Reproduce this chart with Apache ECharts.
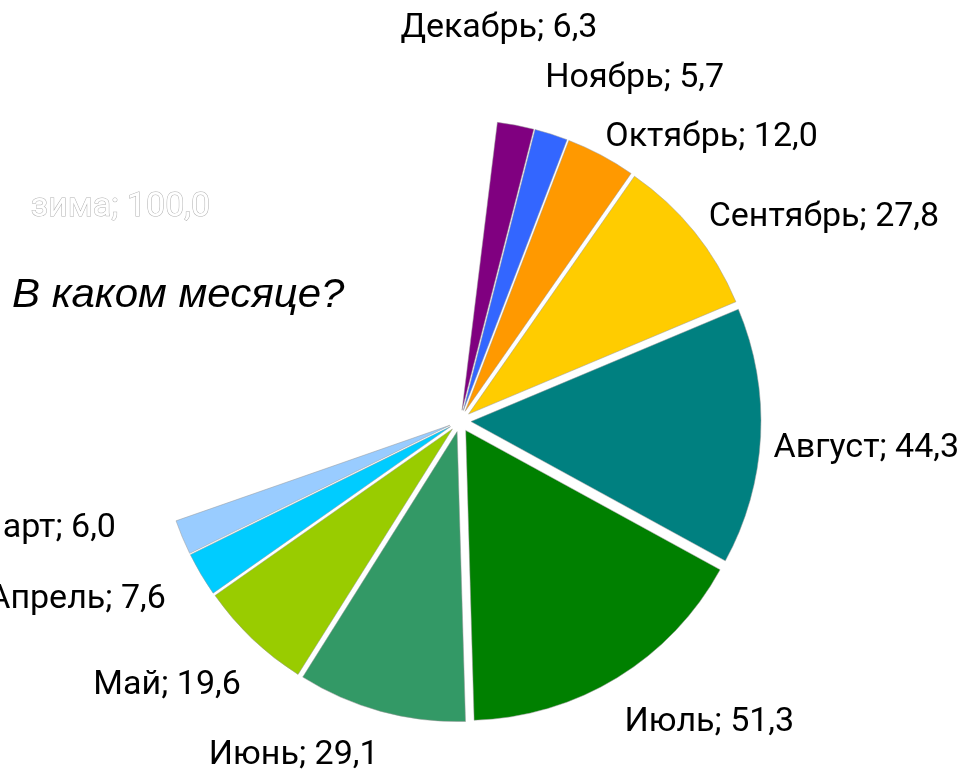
<!DOCTYPE html>
<html>
<head>
<meta charset="utf-8">
<script src="https://cdn.jsdelivr.net/npm/echarts@6/dist/echarts.min.js"></script>
<style>
  html, body { margin: 0; padding: 0; background: #fff; }
  #chart { width: 967px; height: 769px; }
</style>
</head>
<body>
<div id="chart"></div>
<script>
// months, clockwise from the top
const months = ["Декабрь", "Ноябрь", "Октябрь", "Сентябрь", "Август", "Июль", "Июнь", "Май", "Апрель", "Март", "зима"];
const values = [6.3, 5.7, 12.0, 27.8, 44.3, 51.3, 29.1, 19.6, 7.6, 6.0, 100.0];
const colors = ["#800080", "#3366ff", "#ff9900", "#ffcc00", "#008080", "#008000", "#339966", "#99cc00", "#00ccff", "#99ccff", "#ffffff"];
const title = "В каком месяце?";

// hand placement of the labels, like in the original (dx, dy)
const labelNudge = [[-124, -77], [-17, -37], [-10, 0], [-6, -2], [-12, 11], [-8, 28], [8, 25], [7, 32], [-13, 15], [-43, -17], [5, -12]];

const chart = echarts.init(document.getElementById("chart"));

const fmt = (v) => v.toFixed(1).replace(".", ",");

const data = months.map((name, i) => {
  const item = {
    name: name,
    value: values[i],
    selected: true,
    itemStyle: { color: colors[i] },
  };
  if (name === "зима") {
    // hidden slice, only its label shows
    item.itemStyle.borderWidth = 0;
    item.label = { color: "#fff", textBorderColor: "#b0b0b0", textBorderWidth: 1 };
  }
  return item;
});

const option = {
  backgroundColor: "#fff",
  animation: false,
  graphic: [
    {
      type: "text",
      left: 12,
      top: 276,
      z: 100,
      scaleX: 1.05,
      style: {
        text: title,
        font: "italic 40px 'Liberation Sans', Arial, sans-serif",
        fill: "#000",
      },
    },
  ],
  series: [
    {
      type: "pie",
      center: [460, 421],
      radius: 290,
      startAngle: 83,
      clockwise: true,
      selectedMode: "multiple",
      selectedOffset: 11,
      avoidLabelOverlap: false,
      itemStyle: {
        borderColor: "rgba(150,150,150,0.7)",
        borderWidth: 0.7,
      },
      emphasis: { disabled: true },
      label: {
        show: true,
        position: "outside",
        color: "#000",
        fontFamily: "Roboto, sans-serif",
        fontSize: 34,
        formatter: (p) => p.name + "; " + fmt(p.value),
      },
      labelLine: { show: false, length: 20, length2: 0 },
      labelLayout: (p) => ({
        hideOverlap: false,
        dx: labelNudge[p.dataIndex][0],
        dy: labelNudge[p.dataIndex][1],
      }),
      data: data,
    },
  ],
};

chart.setOption(option);
</script>
</body>
</html>
